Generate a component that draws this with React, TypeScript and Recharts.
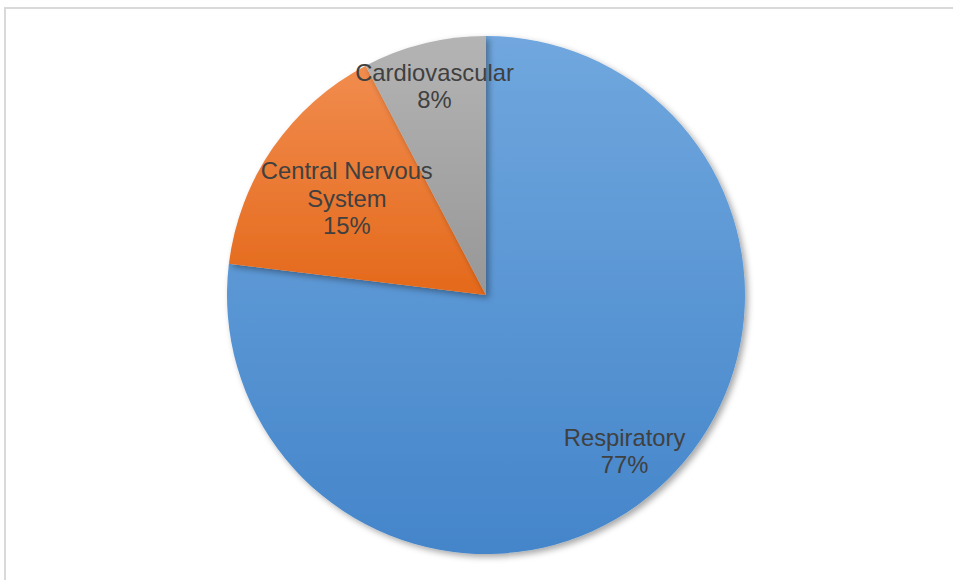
import { PieChart, Pie, Cell } from 'recharts';

const categories = ['Respiratory', 'Central Nervous System', 'Cardiovascular'];
const counts = [10, 2, 1];

const gradientStops = [
  { top: '#70a7de', bottom: '#4485ca' },
  { top: '#f18c4e', bottom: '#e4691b' },
  { top: '#b4b4b4', bottom: '#979797' },
];

// excel "best fit" puts each label at a different distance from the centre
const labelRadius = [0.807, 0.653, 0.83];

const chartData = categories.map((name, i) => ({ name, value: counts[i] }));

const RADIAN = Math.PI / 180;
const LINE_HEIGHT = 27.5;

function splitName(name: string) {
  if (name.length <= 15) return [name];
  const cut = name.lastIndexOf(' ');
  return [name.slice(0, cut), name.slice(cut + 1)];
}

function renderLabel(props: any) {
  const { cx, cy, midAngle, outerRadius, index, name, percent } = props;
  const r = outerRadius * labelRadius[index];
  const x = cx + r * Math.cos(midAngle * RADIAN);
  const y = cy - r * Math.sin(midAngle * RADIAN);
  const lines = [...splitName(name), `${Math.round(percent * 100)}%`];
  const firstBaseline = y - ((lines.length - 1) * LINE_HEIGHT) / 2 + 8;

  return (
    <text
      x={x}
      y={firstBaseline}
      textAnchor="middle"
      fill="#404040"
      fontSize={23.8}
      fontFamily="'Liberation Sans', Arial, sans-serif"
    >
      {lines.map((line, i) => (
        <tspan key={i} x={x} y={firstBaseline + i * LINE_HEIGHT}>
          {line}
        </tspan>
      ))}
    </text>
  );
}

export default function App() {
  return (
    <div style={{ position: 'absolute', left: 0, top: 0, width: 953, height: 580, overflow: 'hidden', background: '#fff' }}>
      <div
        style={{
          position: 'absolute',
          left: 4,
          top: 7,
          width: 980,
          height: 620,
          border: '2px solid #d9d9d9',
        }}
      />
      <div style={{ position: 'absolute', left: 0, top: 0 }}>
        <PieChart width={953} height={580} margin={{ top: 0, right: 0, bottom: 0, left: 0 }}>
          <defs>
            {gradientStops.map((g, i) => (
              <linearGradient key={i} id={`slice-${i}`} x1="0" y1="0" x2="0" y2="1">
                <stop offset="0%" stopColor={g.top} />
                <stop offset="100%" stopColor={g.bottom} />
              </linearGradient>
            ))}
            <filter id="pie-shadow" x="-10%" y="-10%" width="120%" height="120%">
              <feDropShadow dx="3" dy="3" stdDeviation="3" floodColor="#000" floodOpacity="0.35" />
            </filter>
          </defs>
          <Pie
            data={chartData}
            dataKey="value"
            nameKey="name"
            cx={486}
            cy={295}
            outerRadius={259}
            startAngle={90}
            endAngle={-270}
            stroke="none"
            label={renderLabel}
            labelLine={false}
            isAnimationActive={false}
            style={{ filter: 'url(#pie-shadow)' }}
          >
            {chartData.map((_, i) => (
              <Cell key={i} fill={`url(#slice-${i})`} stroke="none" />
            ))}
          </Pie>
        </PieChart>
      </div>
    </div>
  );
}
